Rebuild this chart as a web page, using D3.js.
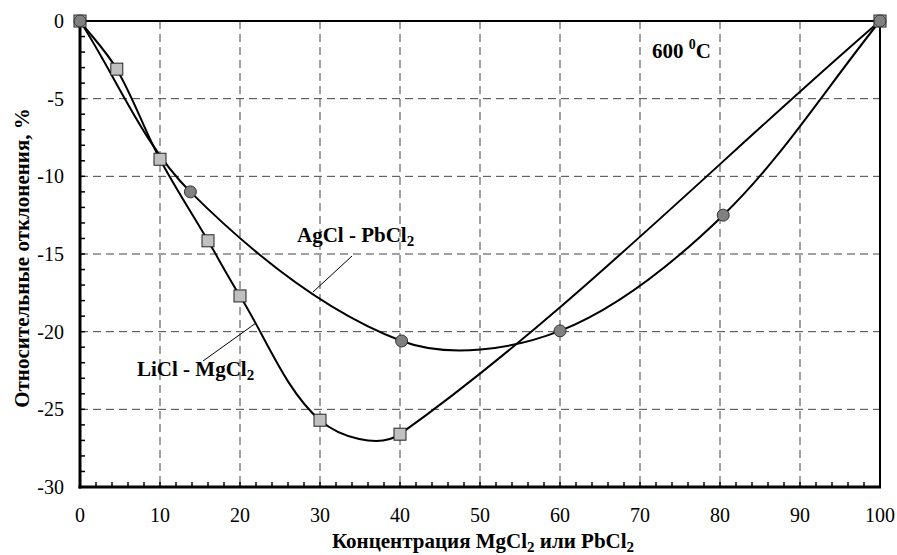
<!DOCTYPE html>
<html>
<head>
  <style>
    body{ margin:0; background:#fff; }
    .tick-label{ font-size:20px; }
    .title{ font-size:21px; font-weight:bold; }
    .grid{ stroke:#444; stroke-width:1; stroke-dasharray:8,5; }
  </style>
  <script src="https://d3js.org/d3.v7.min.js"></script>
</head>
<body>
<div class="chart"></div>
<script>
// LiCl - MgCl2 (squares)
const liclX = [0, 4.6, 10, 16, 20, 30, 40, 100];
const liclY = [0, -3.1, -8.9, -14.15, -17.7, -25.7, -26.6, 0];
// AgCl - PbCl2 (circles)
const agclX = [0, 13.8, 40.2, 60, 80.4, 100];
const agclY = [0, -11.0, -20.6, -19.95, -12.5, 0];

const xTicks = [0, 10, 20, 30, 40, 50, 60, 70, 80, 90, 100];
const yTicks = [0, -5, -10, -15, -20, -25, -30];

const width = 897, height = 555;
const pLeft = 80, pRight = 880, pTop = 21, pBottom = 487;
const serif = "'Liberation Serif', Tinos, 'Times New Roman', Times, 'Noto Serif', 'DejaVu Serif', FreeSerif, serif";

// spreadsheet-style smoothing: catmull-rom direction, length scaled by segment size
function SmoothCurve(context){ this._context = context; }
SmoothCurve.prototype = {
  areaStart(){}, areaEnd(){},
  lineStart(){ this._pts = []; },
  point(x, y){ this._pts.push([+x, +y]); },
  lineEnd(){
    const p = this._pts, c = this._context, n = p.length;
    if (!n) return;
    c.moveTo(p[0][0], p[0][1]);
    const dist = (a, b) => Math.hypot(b[0] - a[0], b[1] - a[1]);
    for (let i = 0; i < n - 1; i++){
      const p0 = p[Math.max(i - 1, 0)], p1 = p[i], p2 = p[i + 1], p3 = p[Math.min(i + 2, n - 1)];
      const d01 = dist(p0, p1), d12 = dist(p1, p2), d23 = dist(p2, p3);
      const f1 = d12 / (d01 + d12) / 3, f2 = d12 / (d12 + d23) / 3;
      const c1 = [p1[0] + (p2[0] - p0[0]) * f1, p1[1] + (p2[1] - p0[1]) * f1];
      const c2 = [p2[0] - (p3[0] - p1[0]) * f2, p2[1] - (p3[1] - p1[1]) * f2];
      c.bezierCurveTo(c1[0], c1[1], c2[0], c2[1], p2[0], p2[1]);
    }
  }
};
const curveSmooth = ctx => new SmoothCurve(ctx);

const svg = d3.select('.chart').append('svg')
  .attr('width', width)
  .attr('height', height)
  .style('font-family', serif);

const x = d3.scaleLinear().domain([0, 100]).range([pLeft, pRight]);
const y = d3.scaleLinear().domain([0, -30]).range([pTop, pBottom]);

// grid
svg.append('g').selectAll('line').data(xTicks.slice(1, -1)).join('line')
  .attr('class', 'grid')
  .attr('x1', d => x(d)).attr('x2', d => x(d))
  .attr('y1', pTop).attr('y2', pBottom);
svg.append('g').selectAll('line').data(yTicks.slice(1, -1)).join('line')
  .attr('class', 'grid')
  .attr('x1', pLeft).attr('x2', pRight)
  .attr('y1', d => y(d)).attr('y2', d => y(d));

// minor ticks (inside)
svg.append('g').selectAll('line').data(d3.range(2, 100, 2)).join('line')
  .attr('x1', d => x(d)).attr('x2', d => x(d))
  .attr('y1', pBottom).attr('y2', pBottom - 5)
  .attr('stroke', '#000').attr('stroke-width', 1.5);
svg.append('g').selectAll('line').data(d3.range(-1, -30, -1)).join('line')
  .attr('x1', pLeft).attr('x2', pLeft + 5)
  .attr('y1', d => y(d)).attr('y2', d => y(d))
  .attr('stroke', '#000').attr('stroke-width', 1.5);

// frame: top & right thinner, left & bottom axes thicker
svg.append('line').attr('x1', pLeft).attr('x2', pRight).attr('y1', pTop).attr('y2', pTop)
  .attr('stroke', '#000').attr('stroke-width', 2);
svg.append('line').attr('x1', pRight).attr('x2', pRight).attr('y1', pTop).attr('y2', pBottom)
  .attr('stroke', '#000').attr('stroke-width', 2);
svg.append('line').attr('x1', pLeft).attr('x2', pLeft).attr('y1', pTop).attr('y2', pBottom + 1.5)
  .attr('stroke', '#000').attr('stroke-width', 3);
svg.append('line').attr('x1', pLeft - 1.5).attr('x2', pRight + 1).attr('y1', pBottom).attr('y2', pBottom)
  .attr('stroke', '#000').attr('stroke-width', 3);

// tick labels
svg.append('g').selectAll('text').data(xTicks).join('text')
  .attr('class', 'tick-label')
  .attr('x', d => x(d)).attr('y', 522)
  .attr('text-anchor', 'middle')
  .text(d => d);
svg.append('g').selectAll('text').data(yTicks).join('text')
  .attr('class', 'tick-label')
  .attr('x', 64).attr('y', d => y(d) + 7)
  .attr('text-anchor', 'end')
  .text(d => d);

// axis titles
const xt = svg.append('text').attr('class', 'title')
  .attr('x', 483).attr('y', 548).attr('text-anchor', 'middle');
xt.append('tspan').text('Концентрация MgCl');
xt.append('tspan').attr('font-size', 15).attr('dy', 4).text('2');
xt.append('tspan').attr('dy', -4).text(' или PbCl');
xt.append('tspan').attr('font-size', 15).attr('dy', 4).text('2');

svg.append('text').attr('class', 'title')
  .attr('transform', 'translate(29,258) rotate(-90)')
  .attr('text-anchor', 'middle')
  .text('Относительные отклонения, %');

// curves
const line = d3.line()
  .x(d => x(d[0])).y(d => y(d[1]))
  .curve(curveSmooth);

const licl = liclX.map((v, i) => [v, liclY[i]]);
const agcl = agclX.map((v, i) => [v, agclY[i]]);

svg.append('path').datum(licl).attr('d', line)
  .attr('fill', 'none').attr('stroke', '#000').attr('stroke-width', 2);
svg.append('path').datum(agcl).attr('d', line)
  .attr('fill', 'none').attr('stroke', '#000').attr('stroke-width', 2);

// markers
svg.append('g').selectAll('rect').data(licl).join('rect')
  .attr('x', d => x(d[0]) - 6).attr('y', d => y(d[1]) - 6)
  .attr('width', 12).attr('height', 12)
  .attr('fill', '#c0c0c0').attr('stroke', '#222').attr('stroke-width', 1);
svg.append('g').selectAll('circle').data(agcl).join('circle')
  .attr('cx', d => x(d[0])).attr('cy', d => y(d[1]))
  .attr('r', 6)
  .attr('fill', '#808080').attr('stroke', '#333').attr('stroke-width', 1);

// labels with leader lines
const a = svg.append('text').attr('class', 'title')
  .attr('x', 297).attr('y', 242);
a.append('tspan').text('AgCl - PbCl');
a.append('tspan').attr('font-size', 15).attr('dy', 4).text('2');
svg.append('line').attr('x1', 352).attr('y1', 256).attr('x2', 313).attr('y2', 292)
  .attr('stroke', '#000').attr('stroke-width', 1);

const b = svg.append('text').attr('class', 'title')
  .attr('x', 137).attr('y', 376);
b.append('tspan').text('LiCl - MgCl');
b.append('tspan').attr('font-size', 15).attr('dy', 4).text('2');
svg.append('line').attr('x1', 203).attr('y1', 361).attr('x2', 256).attr('y2', 323)
  .attr('stroke', '#000').attr('stroke-width', 1);

const c = svg.append('text').attr('class', 'title')
  .attr('x', 652).attr('y', 58);
c.append('tspan').text('600 ');
c.append('tspan').attr('font-size', 14).attr('dy', -9).text('0');
c.append('tspan').attr('dy', 9).text('C');
</script>
</body>
</html>
